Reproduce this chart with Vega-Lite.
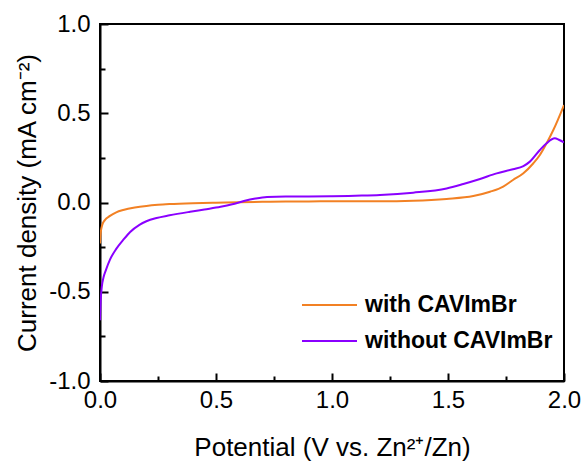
{
  "$schema": "https://vega.github.io/schema/vega-lite/v6.json",
  "width": 464,
  "height": 357,
  "autosize": {"type": "none"},
  "padding": {"left": 100, "top": 24, "right": 21, "bottom": 82},
  "config": {
    "font": "Liberation Sans",
    "view": {"stroke": "#000000", "strokeWidth": 2},
    "axis": {"grid": false, "domainColor": "#000000", "tickColor": "#000000", "domainWidth": 2, "tickWidth": 2, "labelColor": "#000000", "titleColor": "#000000", "labelFontSize": 24, "titleFontSize": 26, "titleFontWeight": "normal", "labelFlush": false}
  },
  "data": {"values": [
    {"v": 0.0, "j": -0.23, "s": "with CAVImBr"},
    {"v": 0.003, "j": -0.17, "s": "with CAVImBr"},
    {"v": 0.01, "j": -0.125, "s": "with CAVImBr"},
    {"v": 0.02, "j": -0.1, "s": "with CAVImBr"},
    {"v": 0.043, "j": -0.075, "s": "with CAVImBr"},
    {"v": 0.07, "j": -0.055, "s": "with CAVImBr"},
    {"v": 0.1, "j": -0.042, "s": "with CAVImBr"},
    {"v": 0.15, "j": -0.028, "s": "with CAVImBr"},
    {"v": 0.2, "j": -0.019, "s": "with CAVImBr"},
    {"v": 0.25, "j": -0.013, "s": "with CAVImBr"},
    {"v": 0.3, "j": -0.009, "s": "with CAVImBr"},
    {"v": 0.4, "j": -0.004, "s": "with CAVImBr"},
    {"v": 0.5, "j": -0.001, "s": "with CAVImBr"},
    {"v": 0.6, "j": 0.002, "s": "with CAVImBr"},
    {"v": 0.7, "j": 0.004, "s": "with CAVImBr"},
    {"v": 0.8, "j": 0.006, "s": "with CAVImBr"},
    {"v": 0.9, "j": 0.006, "s": "with CAVImBr"},
    {"v": 1.0, "j": 0.007, "s": "with CAVImBr"},
    {"v": 1.1, "j": 0.007, "s": "with CAVImBr"},
    {"v": 1.207, "j": 0.007, "s": "with CAVImBr"},
    {"v": 1.35, "j": 0.01, "s": "with CAVImBr"},
    {"v": 1.494, "j": 0.02, "s": "with CAVImBr"},
    {"v": 1.609, "j": 0.036, "s": "with CAVImBr"},
    {"v": 1.681, "j": 0.06, "s": "with CAVImBr"},
    {"v": 1.738, "j": 0.089, "s": "with CAVImBr"},
    {"v": 1.78, "j": 0.126, "s": "with CAVImBr"},
    {"v": 1.825, "j": 0.164, "s": "with CAVImBr"},
    {"v": 1.868, "j": 0.22, "s": "with CAVImBr"},
    {"v": 1.896, "j": 0.266, "s": "with CAVImBr"},
    {"v": 1.925, "j": 0.332, "s": "with CAVImBr"},
    {"v": 1.954, "j": 0.406, "s": "with CAVImBr"},
    {"v": 2.0, "j": 0.546, "s": "with CAVImBr"},
    {"v": 0.0, "j": -0.66, "s": "without CAVImBr"},
    {"v": 0.003, "j": -0.55, "s": "without CAVImBr"},
    {"v": 0.008, "j": -0.47, "s": "without CAVImBr"},
    {"v": 0.015, "j": -0.42, "s": "without CAVImBr"},
    {"v": 0.025, "j": -0.38, "s": "without CAVImBr"},
    {"v": 0.043, "j": -0.32, "s": "without CAVImBr"},
    {"v": 0.07, "j": -0.26, "s": "without CAVImBr"},
    {"v": 0.1, "j": -0.21, "s": "without CAVImBr"},
    {"v": 0.13, "j": -0.165, "s": "without CAVImBr"},
    {"v": 0.17, "j": -0.125, "s": "without CAVImBr"},
    {"v": 0.2, "j": -0.105, "s": "without CAVImBr"},
    {"v": 0.244, "j": -0.087, "s": "without CAVImBr"},
    {"v": 0.3, "j": -0.072, "s": "without CAVImBr"},
    {"v": 0.388, "j": -0.052, "s": "without CAVImBr"},
    {"v": 0.45, "j": -0.039, "s": "without CAVImBr"},
    {"v": 0.52, "j": -0.024, "s": "without CAVImBr"},
    {"v": 0.57, "j": -0.01, "s": "without CAVImBr"},
    {"v": 0.62, "j": 0.008, "s": "without CAVImBr"},
    {"v": 0.67, "j": 0.022, "s": "without CAVImBr"},
    {"v": 0.72, "j": 0.031, "s": "without CAVImBr"},
    {"v": 0.8, "j": 0.034, "s": "without CAVImBr"},
    {"v": 0.9, "j": 0.034, "s": "without CAVImBr"},
    {"v": 1.0, "j": 0.035, "s": "without CAVImBr"},
    {"v": 1.1, "j": 0.038, "s": "without CAVImBr"},
    {"v": 1.207, "j": 0.042, "s": "without CAVImBr"},
    {"v": 1.35, "j": 0.055, "s": "without CAVImBr"},
    {"v": 1.494, "j": 0.079, "s": "without CAVImBr"},
    {"v": 1.566, "j": 0.104, "s": "without CAVImBr"},
    {"v": 1.638, "j": 0.132, "s": "without CAVImBr"},
    {"v": 1.71, "j": 0.163, "s": "without CAVImBr"},
    {"v": 1.78, "j": 0.186, "s": "without CAVImBr"},
    {"v": 1.825, "j": 0.204, "s": "without CAVImBr"},
    {"v": 1.853, "j": 0.229, "s": "without CAVImBr"},
    {"v": 1.896, "j": 0.294, "s": "without CAVImBr"},
    {"v": 1.925, "j": 0.332, "s": "without CAVImBr"},
    {"v": 1.96, "j": 0.36, "s": "without CAVImBr"},
    {"v": 1.98, "j": 0.35, "s": "without CAVImBr"},
    {"v": 2.0, "j": 0.337, "s": "without CAVImBr"}
  ]},
  "resolve": {"axis": {"x": "independent", "y": "independent"}},
  "layer": [
    {
      "mark": {"type": "line", "strokeWidth": 2, "clip": true, "interpolate": "monotone"},
      "encoding": {
        "x": {"field": "v", "type": "quantitative", "scale": {"domain": [0, 2], "nice": false, "zero": false},
          "axis": {"orient": "bottom", "values": [0, 0.5, 1, 1.5, 2], "format": ".1f", "tickSize": -8, "labelPadding": 15, "title": "Potential (V vs. Zn²⁺/Zn)", "titlePadding": 22}},
        "y": {"field": "j", "type": "quantitative", "scale": {"domain": [-1, 1], "nice": false, "zero": false},
          "axis": {"orient": "left", "values": [-1, -0.5, 0, 0.5, 1], "format": ".1f", "labelExpr": "replace(datum.label, '−', '-')", "tickSize": -8, "labelPadding": 18, "title": "Current density (mA cm⁻²)", "titlePadding": 8}},
        "color": {"field": "s", "type": "nominal", "scale": {"domain": ["with CAVImBr", "without CAVImBr"], "range": ["#F28124", "#8A00FF"]},
          "legend": {"title": null, "orient": "none", "legendX": 201, "legendY": 271, "symbolType": "stroke", "symbolSize": 3025, "symbolStrokeWidth": 2, "clipHeight": 20, "labelFontSize": 23, "labelFontWeight": "bold", "labelColor": "#000000", "labelOffset": 7, "labelLimit": 400, "rowPadding": 13}}
      }
    },
    {
      "mark": {"type": "line", "opacity": 0},
      "encoding": {
        "x": {"field": "v", "type": "quantitative", "scale": {"domain": [0, 2], "nice": false, "zero": false},
          "axis": {"orient": "bottom", "values": [0.25, 0.75, 1.25, 1.75], "tickSize": -5, "labels": false, "domain": false, "title": null}},
        "y": {"field": "j", "type": "quantitative", "scale": {"domain": [-1, 1], "nice": false, "zero": false},
          "axis": {"orient": "left", "values": [-0.75, -0.25, 0.25, 0.75], "tickSize": -5, "labels": false, "domain": false, "title": null}},
        "detail": {"field": "s"}
      }
    }
  ]
}
